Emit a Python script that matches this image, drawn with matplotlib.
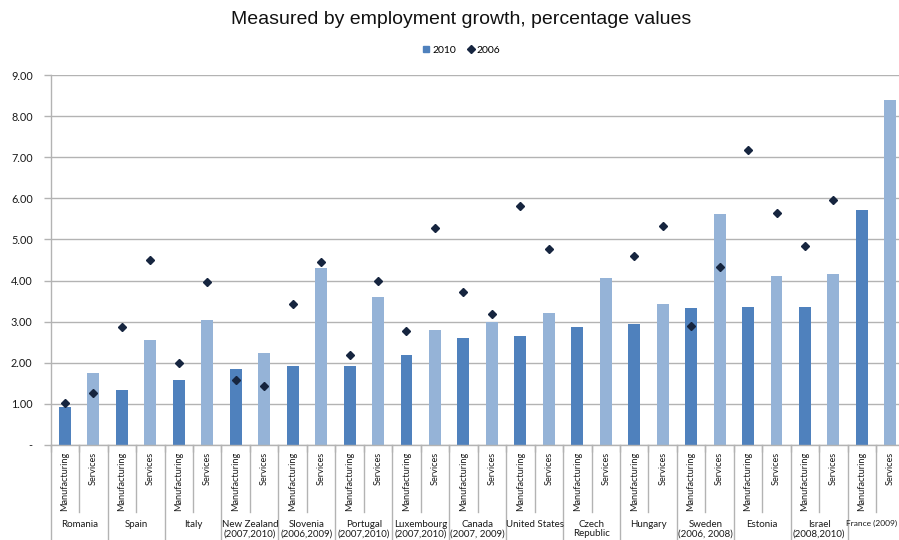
import numpy as np
import matplotlib
matplotlib.use("Agg")
import matplotlib.pyplot as plt
from matplotlib.lines import Line2D
from matplotlib.transforms import blended_transform_factory

countries = ["Romania", "Spain", "Italy", "New Zealand\n(2007,2010)",
             "Slovenia\n(2006,2009)", "Portugal\n(2007,2010)",
             "Luxembourg\n(2007,2010)", "Canada\n(2007, 2009)", "United States",
             "Czech\nRepublic", "Hungary", "Sweden\n(2006, 2008)", "Estonia",
             "Israel\n(2008,2010)", "France (2009)"]
sectors = ["Manufacturing", "Services"]

manuf_2010 = [0.93, 1.35, 1.58, 1.86, 1.91, 1.91, 2.18, 2.60, 2.66, 2.86, 2.94, 3.34, 3.36, 3.36, 5.71]
serv_2010 = [1.76, 2.56, 3.05, 2.24, 4.31, 3.61, 2.80, 2.98, 3.22, 4.06, 3.43, 5.62, 4.10, 4.15, 8.40]
manuf_2006 = [1.03, 2.87, 2.00, 1.58, 3.44, 2.20, 2.77, 3.72, 5.81, np.nan, 4.60, 2.90, 7.17, 4.83, np.nan]
serv_2006 = [1.26, 4.50, 3.97, 1.44, 4.45, 3.98, 5.28, 3.19, 4.77, np.nan, 5.32, 4.33, 5.64, 5.96, np.nan]

yticks = [0, 1, 2, 3, 4, 5, 6, 7, 8, 9]
ytick_labels = ["-", "1.00", "2.00", "3.00", "4.00", "5.00", "6.00", "7.00", "8.00", "9.00"]

DARK = "#4F81BD"
LIGHT = "#95B3D7"
DIAMOND = "#16253f"
GRID = "#b3b3b3"
TICK_FONT = ["Lato", "DejaVu Sans"]

n = len(countries)
vals_2010 = np.ravel(np.column_stack([manuf_2010, serv_2010]))
vals_2006 = np.ravel(np.column_stack([manuf_2006, serv_2006]))
colors = [DARK, LIGHT] * n
x = np.arange(2 * n)

fig = plt.figure(figsize=(8.99, 5.40), dpi=100)
W, H = 899, 540
left_px, right_px, bottom_px, top_px = 50.7, 904.6, 445, 75
plot_h = bottom_px - top_px
ax = fig.add_axes([left_px / W, 1 - bottom_px / H,
                   (right_px - left_px) / W, plot_h / H])

ax.bar(x, vals_2010, width=0.42, color=colors, zorder=2)
ax.plot(x, vals_2006, linestyle="none", marker="D", markersize=4.2,
        color=DIAMOND, zorder=3)

ax.set_xlim(-0.5, 2 * n - 0.5)
ax.set_ylim(0, 9)
ax.set_yticks(yticks)
ax.set_yticklabels(ytick_labels, fontsize=7.8, family=TICK_FONT, color="#1a1a1a")
ax.yaxis.grid(True, color=GRID, linewidth=1.0, zorder=0)
ax.set_axisbelow(True)
ax.tick_params(axis="y", length=5, width=1, color=GRID, pad=8)

for s in ["top", "right", "bottom"]:
    ax.spines[s].set_visible(False)
ax.spines["left"].set_color(GRID)
ax.spines["left"].set_linewidth(1.0)

# sector labels under each bar
ax.set_xticks(x)
ax.set_xticklabels(sectors * n, rotation=90, fontsize=6.6, family=TICK_FONT,
                   va="top", ha="center", color="#1a1a1a")
ax.tick_params(axis="x", length=0, pad=5)
ax.set_xticks(np.arange(-0.5, 2 * n, 1.0), minor=True)
ax.tick_params(axis="x", which="minor", length=5, width=1, color=GRID)

# category separators and country labels
trans = blended_transform_factory(ax.transData, ax.transAxes)
inner_bottom = -(512 - bottom_px) / plot_h
outer_bottom = -(541 - bottom_px) / plot_h
label_top = -(520 - bottom_px) / plot_h
for g in range(n + 1):
    xb = 2 * g - 0.5
    ax.plot([xb, xb], [0, outer_bottom], color=GRID, linewidth=1.0,
            transform=trans, clip_on=False)
for g in range(n):
    xb = 2 * g + 0.5
    ax.plot([xb, xb], [0, inner_bottom], color=GRID, linewidth=1.0,
            transform=trans, clip_on=False)
    if g == n - 1:
        # last group label runs up to the right-hand edge of the figure
        fig.text(1 - 1.5 / W, 1 - 520 / H, countries[g], ha="right", va="top",
                 fontsize=6.0, family=TICK_FONT, color="#1a1a1a")
    else:
        ax.text(2 * g + 0.5, label_top, countries[g],
                transform=trans, ha="center", va="top", fontsize=7,
                family=TICK_FONT, color="#1a1a1a", linespacing=1.05)
ax.plot([-0.5, 2 * n - 0.5], [0, 0], color=GRID, linewidth=1.0,
        transform=trans, clip_on=False)

fig.text(0.513, 1 - 19 / H, "Measured by employment growth, percentage values",
         ha="center", va="center", fontsize=14, family=["Liberation Sans", "DejaVu Sans"],
         color="#111111")

handles = [Line2D([], [], linestyle="none", marker="s", markersize=5, color=DARK),
           Line2D([], [], linestyle="none", marker="D", markersize=3.6, color=DIAMOND)]
fig.legend(handles, ["2010", "2006"], loc="center", bbox_to_anchor=(0.513, 1 - 50 / H),
           ncol=2, frameon=False, prop={"family": TICK_FONT, "size": 7.5},
           handlelength=0.8, handletextpad=0.2, columnspacing=1.0)

fig.savefig("out.png", dpi=100)
